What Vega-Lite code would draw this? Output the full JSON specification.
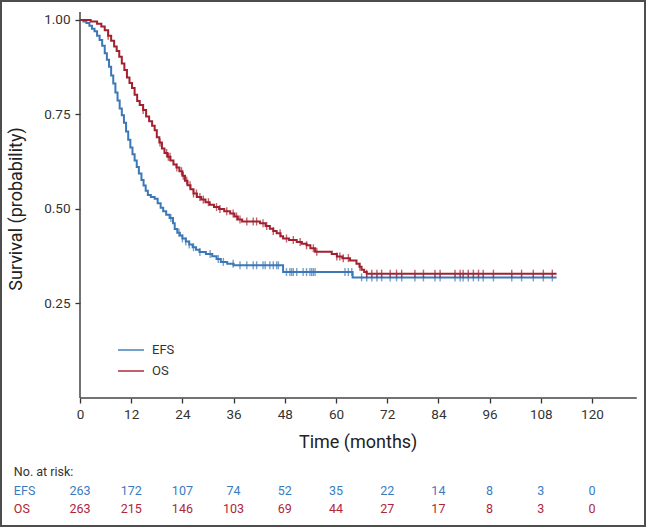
{
  "$schema": "https://vega.github.io/schema/vega-lite/v6.json",
  "width": 646,
  "height": 527,
  "padding": 0,
  "autosize": {"type": "fit", "contains": "padding"},
  "background": "white",
  "config": {
    "view": {"stroke": "#4d4d4d", "strokeWidth": 4},
    "font": "Roboto",
    "axis": {"grid": false, "domain": false, "tickColor": "#333", "tickWidth": 1.3, "tickSize": 5, "labelColor": "#333", "labelFontSize": 13.5, "labelFont": "Roboto"}
  },
  "datasets": {
    "curves": [
      {"series":"EFS","time":0,"surv":1},{"series":"EFS","time":0.8,"surv":0.996},{"series":"EFS","time":1.5,"surv":0.992},{"series":"EFS","time":2.2,"surv":0.985},{"series":"EFS","time":2.8,"surv":0.977},{"series":"EFS","time":3.4,"surv":0.970},{"series":"EFS","time":4.0,"surv":0.958},{"series":"EFS","time":4.6,"surv":0.947},{"series":"EFS","time":5.2,"surv":0.932},{"series":"EFS","time":5.8,"surv":0.912},{"series":"EFS","time":6.3,"surv":0.895},{"series":"EFS","time":6.8,"surv":0.876},{"series":"EFS","time":7.3,"surv":0.853},{"series":"EFS","time":7.8,"surv":0.832},{"series":"EFS","time":8.3,"surv":0.808},{"series":"EFS","time":8.8,"surv":0.787},{"series":"EFS","time":9.3,"surv":0.766},{"series":"EFS","time":9.8,"surv":0.748},{"series":"EFS","time":10.3,"surv":0.728},{"series":"EFS","time":10.8,"surv":0.705},{"series":"EFS","time":11.3,"surv":0.683},{"series":"EFS","time":11.8,"surv":0.663},{"series":"EFS","time":12.3,"surv":0.645},{"series":"EFS","time":12.8,"surv":0.628},{"series":"EFS","time":13.3,"surv":0.611},{"series":"EFS","time":13.8,"surv":0.594},{"series":"EFS","time":14.4,"surv":0.577},{"series":"EFS","time":14.9,"surv":0.562},{"series":"EFS","time":15.4,"surv":0.548},{"series":"EFS","time":15.9,"surv":0.537},{"series":"EFS","time":16.6,"surv":0.532},{"series":"EFS","time":17.5,"surv":0.527},{"series":"EFS","time":18.2,"surv":0.515},{"series":"EFS","time":18.9,"surv":0.503},{"series":"EFS","time":19.5,"surv":0.494},{"series":"EFS","time":20.2,"surv":0.485},{"series":"EFS","time":21.0,"surv":0.476},{"series":"EFS","time":21.8,"surv":0.462},{"series":"EFS","time":22.2,"surv":0.447},{"series":"EFS","time":22.8,"surv":0.437},{"series":"EFS","time":23.4,"surv":0.430},{"series":"EFS","time":24.0,"surv":0.422},{"series":"EFS","time":24.8,"surv":0.414},{"series":"EFS","time":25.6,"surv":0.406},{"series":"EFS","time":26.4,"surv":0.399},{"series":"EFS","time":27.2,"surv":0.392},{"series":"EFS","time":28.0,"surv":0.386},{"series":"EFS","time":29.5,"surv":0.381},{"series":"EFS","time":31.0,"surv":0.375},{"series":"EFS","time":32.0,"surv":0.368},{"series":"EFS","time":33.0,"surv":0.360},{"series":"EFS","time":34.5,"surv":0.355},{"series":"EFS","time":36.0,"surv":0.351},{"series":"EFS","time":47.6,"surv":0.333},{"series":"EFS","time":63.9,"surv":0.319},{"series":"EFS","time":111.7,"surv":0.319},
      {"series":"OS","time":0,"surv":1},{"series":"OS","time":2.5,"surv":0.996},{"series":"OS","time":4.0,"surv":0.990},{"series":"OS","time":5.0,"surv":0.983},{"series":"OS","time":5.8,"surv":0.973},{"series":"OS","time":6.6,"surv":0.958},{"series":"OS","time":7.3,"surv":0.945},{"series":"OS","time":8.0,"surv":0.930},{"series":"OS","time":8.6,"surv":0.918},{"series":"OS","time":9.2,"surv":0.903},{"series":"OS","time":9.8,"surv":0.885},{"series":"OS","time":10.4,"surv":0.868},{"series":"OS","time":11.0,"surv":0.848},{"series":"OS","time":11.6,"surv":0.833},{"series":"OS","time":12.2,"surv":0.820},{"series":"OS","time":12.8,"surv":0.802},{"series":"OS","time":13.4,"surv":0.786},{"series":"OS","time":14.0,"surv":0.775},{"series":"OS","time":14.8,"surv":0.762},{"series":"OS","time":15.5,"surv":0.745},{"series":"OS","time":16.2,"surv":0.732},{"series":"OS","time":16.9,"surv":0.720},{"series":"OS","time":17.5,"surv":0.708},{"series":"OS","time":18.0,"surv":0.690},{"series":"OS","time":18.6,"surv":0.676},{"series":"OS","time":19.2,"surv":0.660},{"series":"OS","time":19.8,"surv":0.648},{"series":"OS","time":20.5,"surv":0.638},{"series":"OS","time":21.2,"surv":0.628},{"series":"OS","time":21.9,"surv":0.618},{"series":"OS","time":22.6,"surv":0.610},{"series":"OS","time":23.3,"surv":0.600},{"series":"OS","time":24.0,"surv":0.588},{"series":"OS","time":24.6,"surv":0.575},{"series":"OS","time":25.2,"surv":0.563},{"series":"OS","time":25.9,"surv":0.552},{"series":"OS","time":26.6,"surv":0.541},{"series":"OS","time":27.4,"surv":0.532},{"series":"OS","time":28.4,"surv":0.525},{"series":"OS","time":29.4,"surv":0.518},{"series":"OS","time":30.4,"surv":0.511},{"series":"OS","time":31.4,"surv":0.505},{"series":"OS","time":32.6,"surv":0.500},{"series":"OS","time":33.8,"surv":0.494},{"series":"OS","time":35.2,"surv":0.488},{"series":"OS","time":36.2,"surv":0.480},{"series":"OS","time":37.0,"surv":0.472},{"series":"OS","time":38.0,"surv":0.467},{"series":"OS","time":42.2,"surv":0.462},{"series":"OS","time":43.5,"surv":0.455},{"series":"OS","time":44.5,"surv":0.448},{"series":"OS","time":45.3,"surv":0.442},{"series":"OS","time":46.1,"surv":0.436},{"series":"OS","time":47.0,"surv":0.428},{"series":"OS","time":47.6,"surv":0.422},{"series":"OS","time":49.0,"surv":0.418},{"series":"OS","time":50.8,"surv":0.413},{"series":"OS","time":52.0,"surv":0.408},{"series":"OS","time":53.1,"surv":0.404},{"series":"OS","time":54.0,"surv":0.396},{"series":"OS","time":55.1,"surv":0.387},{"series":"OS","time":59.0,"surv":0.381},{"series":"OS","time":60.2,"surv":0.374},{"series":"OS","time":61.5,"surv":0.370},{"series":"OS","time":63.3,"surv":0.364},{"series":"OS","time":64.8,"surv":0.355},{"series":"OS","time":65.5,"surv":0.347},{"series":"OS","time":66.0,"surv":0.339},{"series":"OS","time":66.6,"surv":0.333},{"series":"OS","time":67.2,"surv":0.329},{"series":"OS","time":111.7,"surv":0.329}
    ],
    "censors": [
      {"series":"EFS","time":21.3,"surv":0.476},{"series":"EFS","time":23.2,"surv":0.437},{"series":"EFS","time":24.0,"surv":0.422},{"series":"EFS","time":24.8,"surv":0.414},{"series":"EFS","time":25.6,"surv":0.406},{"series":"EFS","time":26.6,"surv":0.399},{"series":"EFS","time":28.1,"surv":0.386},{"series":"EFS","time":30.5,"surv":0.381},{"series":"EFS","time":32.4,"surv":0.368},{"series":"EFS","time":33.6,"surv":0.360},{"series":"EFS","time":35.9,"surv":0.355},{"series":"EFS","time":37.5,"surv":0.351},{"series":"EFS","time":39.1,"surv":0.351},{"series":"EFS","time":40.6,"surv":0.351},{"series":"EFS","time":41.4,"surv":0.351},{"series":"EFS","time":42.9,"surv":0.351},{"series":"EFS","time":43.4,"surv":0.351},{"series":"EFS","time":44.5,"surv":0.351},{"series":"EFS","time":45.3,"surv":0.351},{"series":"EFS","time":46.1,"surv":0.351},{"series":"EFS","time":46.5,"surv":0.351},{"series":"EFS","time":48.4,"surv":0.333},{"series":"EFS","time":49.2,"surv":0.333},{"series":"EFS","time":49.6,"surv":0.333},{"series":"EFS","time":50.0,"surv":0.333},{"series":"EFS","time":50.8,"surv":0.333},{"series":"EFS","time":52.3,"surv":0.333},{"series":"EFS","time":53.1,"surv":0.333},{"series":"EFS","time":53.9,"surv":0.333},{"series":"EFS","time":54.3,"surv":0.333},{"series":"EFS","time":54.7,"surv":0.333},{"series":"EFS","time":55.1,"surv":0.333},{"series":"EFS","time":62.1,"surv":0.333},{"series":"EFS","time":62.9,"surv":0.333},{"series":"EFS","time":63.7,"surv":0.333},{"series":"EFS","time":66.0,"surv":0.319},{"series":"EFS","time":67.2,"surv":0.319},{"series":"EFS","time":68.4,"surv":0.319},{"series":"EFS","time":69.6,"surv":0.319},{"series":"EFS","time":70.7,"surv":0.319},{"series":"EFS","time":72.7,"surv":0.319},{"series":"EFS","time":74.2,"surv":0.319},{"series":"EFS","time":75.4,"surv":0.319},{"series":"EFS","time":78.5,"surv":0.319},{"series":"EFS","time":80.5,"surv":0.319},{"series":"EFS","time":83.2,"surv":0.319},{"series":"EFS","time":84.4,"surv":0.319},{"series":"EFS","time":87.9,"surv":0.319},{"series":"EFS","time":89.1,"surv":0.319},{"series":"EFS","time":89.8,"surv":0.319},{"series":"EFS","time":91.0,"surv":0.319},{"series":"EFS","time":92.2,"surv":0.319},{"series":"EFS","time":93.4,"surv":0.319},{"series":"EFS","time":94.5,"surv":0.319},{"series":"EFS","time":96.9,"surv":0.319},{"series":"EFS","time":101.2,"surv":0.319},{"series":"EFS","time":103.5,"surv":0.319},{"series":"EFS","time":106.25,"surv":0.319},{"series":"EFS","time":108.6,"surv":0.319},{"series":"EFS","time":110.7,"surv":0.319},
      {"series":"OS","time":6.6,"surv":0.958},{"series":"OS","time":14.8,"surv":0.762},{"series":"OS","time":18.75,"surv":0.676},{"series":"OS","time":20.3,"surv":0.648},{"series":"OS","time":20.7,"surv":0.638},{"series":"OS","time":21.1,"surv":0.638},{"series":"OS","time":22.7,"surv":0.610},{"series":"OS","time":23.8,"surv":0.600},{"series":"OS","time":24.2,"surv":0.588},{"series":"OS","time":25.0,"surv":0.575},{"series":"OS","time":25.8,"surv":0.563},{"series":"OS","time":26.6,"surv":0.541},{"series":"OS","time":27.3,"surv":0.541},{"series":"OS","time":28.1,"surv":0.532},{"series":"OS","time":28.9,"surv":0.525},{"series":"OS","time":30.1,"surv":0.518},{"series":"OS","time":32.0,"surv":0.505},{"series":"OS","time":32.8,"surv":0.500},{"series":"OS","time":34.4,"surv":0.494},{"series":"OS","time":35.9,"surv":0.488},{"series":"OS","time":36.7,"surv":0.480},{"series":"OS","time":37.5,"surv":0.472},{"series":"OS","time":39.1,"surv":0.467},{"series":"OS","time":40.6,"surv":0.467},{"series":"OS","time":41.4,"surv":0.467},{"series":"OS","time":42.9,"surv":0.462},{"series":"OS","time":43.75,"surv":0.455},{"series":"OS","time":45.3,"surv":0.442},{"series":"OS","time":46.9,"surv":0.436},{"series":"OS","time":48.4,"surv":0.422},{"series":"OS","time":50.0,"surv":0.418},{"series":"OS","time":51.6,"surv":0.413},{"series":"OS","time":53.1,"surv":0.404},{"series":"OS","time":54.7,"surv":0.396},{"series":"OS","time":55.5,"surv":0.387},{"series":"OS","time":60.2,"surv":0.374},{"series":"OS","time":60.9,"surv":0.374},{"series":"OS","time":61.7,"surv":0.370},{"series":"OS","time":62.9,"surv":0.370},{"series":"OS","time":65.6,"surv":0.347},{"series":"OS","time":67.2,"surv":0.329},{"series":"OS","time":68.4,"surv":0.329},{"series":"OS","time":69.6,"surv":0.329},{"series":"OS","time":70.7,"surv":0.329},{"series":"OS","time":72.7,"surv":0.329},{"series":"OS","time":74.2,"surv":0.329},{"series":"OS","time":75.4,"surv":0.329},{"series":"OS","time":78.5,"surv":0.329},{"series":"OS","time":80.5,"surv":0.329},{"series":"OS","time":83.2,"surv":0.329},{"series":"OS","time":84.4,"surv":0.329},{"series":"OS","time":87.9,"surv":0.329},{"series":"OS","time":89.1,"surv":0.329},{"series":"OS","time":89.8,"surv":0.329},{"series":"OS","time":91.0,"surv":0.329},{"series":"OS","time":92.2,"surv":0.329},{"series":"OS","time":93.4,"surv":0.329},{"series":"OS","time":94.5,"surv":0.329},{"series":"OS","time":96.9,"surv":0.329},{"series":"OS","time":101.2,"surv":0.329},{"series":"OS","time":103.5,"surv":0.329},{"series":"OS","time":106.25,"surv":0.329},{"series":"OS","time":108.6,"surv":0.329},{"series":"OS","time":110.7,"surv":0.329}
    ],
    "risk": [
      {"series":"EFS","time":0,"n":263},{"series":"EFS","time":12,"n":172},{"series":"EFS","time":24,"n":107},{"series":"EFS","time":36,"n":74},{"series":"EFS","time":48,"n":52},{"series":"EFS","time":60,"n":35},{"series":"EFS","time":72,"n":22},{"series":"EFS","time":84,"n":14},{"series":"EFS","time":96,"n":8},{"series":"EFS","time":108,"n":3},{"series":"EFS","time":120,"n":0},
      {"series":"OS","time":0,"n":263},{"series":"OS","time":12,"n":215},{"series":"OS","time":24,"n":146},{"series":"OS","time":36,"n":103},{"series":"OS","time":48,"n":69},{"series":"OS","time":60,"n":44},{"series":"OS","time":72,"n":27},{"series":"OS","time":84,"n":17},{"series":"OS","time":96,"n":8},{"series":"OS","time":108,"n":3},{"series":"OS","time":120,"n":0}
    ]
  },
  "layer": [
    {
      "data": {"name": "curves"},
      "mark": {"type": "line", "interpolate": "step-after", "strokeWidth": 2},
      "encoding": {
        "x": {"field": "time", "type": "quantitative", "title": null,
              "scale": {"domain": [-18.75, 132.66], "nice": false, "zero": false},
              "axis": {"orient": "bottom", "offset": -129, "values": [0,12,24,36,48,60,72,84,96,108,120], "labelPadding": 4}},
        "y": {"field": "surv", "type": "quantitative", "title": null,
              "scale": {"domain": [-0.3413, 1.0529], "nice": false, "zero": false},
              "axis": {"orient": "left", "offset": -80, "values": [0.25,0.5,0.75,1], "format": ".2f", "labelPadding": 5}},
        "color": {"field": "series", "type": "nominal",
                  "scale": {"domain": ["EFS","OS"], "range": ["#3b78b5","#a3202f"]},
                  "legend": {"orient": "none", "legendX": 117, "legendY": 336, "title": null, "symbolType": "stroke", "symbolSize": 676, "symbolStrokeWidth": 2, "labelFontSize": 13, "labelColor": "#333", "labelOffset": 7, "rowPadding": -10, "padding": 0}}
      }
    },
    {
      "data": {"name": "censors"},
      "mark": {"type": "tick", "orient": "vertical", "size": 8, "thickness": 1.4},
      "encoding": {
        "x": {"field": "time", "type": "quantitative", "title": null},
        "y": {"field": "surv", "type": "quantitative", "title": null},
        "color": {"field": "series", "type": "nominal"}
      }
    },
    {
      "data": {"values": [{}]},
      "mark": {"type": "rule", "color": "#444", "strokeWidth": 1.5},
      "encoding": {"x": {"datum": 0}, "x2": {"datum": 130.5}, "y": {"datum": 0}}
    },
    {
      "data": {"values": [{}]},
      "mark": {"type": "rule", "color": "#444", "strokeWidth": 1.5},
      "encoding": {"x": {"datum": 0}, "y": {"datum": 0}, "y2": {"datum": 1.021}}
    },
    {
      "data": {"values": [{"label": "Time (months)"}]},
      "mark": {"type": "text", "fontSize": 18, "color": "#222", "align": "center", "baseline": "middle"},
      "encoding": {"x": {"datum": 65.2}, "y": {"datum": -0.119}, "text": {"field": "label"}}
    },
    {
      "data": {"values": [{"label": "Survival (probability)"}]},
      "mark": {"type": "text", "fontSize": 18, "color": "#222", "align": "center", "baseline": "middle", "angle": 270},
      "encoding": {"x": {"datum": -14.8}, "y": {"datum": 0.5}, "text": {"field": "label"}}
    },
    {
      "data": {"values": [{"label": "No. at risk:"}]},
      "mark": {"type": "text", "fontSize": 12.5, "color": "#333", "align": "left", "baseline": "middle"},
      "encoding": {"x": {"datum": -15.5}, "y": {"datum": -0.195}, "text": {"field": "label"}}
    },
    {
      "data": {"values": [{"label": "EFS"}]},
      "mark": {"type": "text", "fontSize": 12.5, "color": "#3a7bc0", "align": "left", "baseline": "middle"},
      "encoding": {"x": {"datum": -15.5}, "y": {"datum": -0.245}, "text": {"field": "label"}}
    },
    {
      "data": {"values": [{"label": "OS"}]},
      "mark": {"type": "text", "fontSize": 12.5, "color": "#b0253a", "align": "left", "baseline": "middle"},
      "encoding": {"x": {"datum": -15.5}, "y": {"datum": -0.294}, "text": {"field": "label"}}
    },
    {
      "data": {"name": "risk"},
      "transform": [{"filter": "datum.series === 'EFS'"}],
      "mark": {"type": "text", "fontSize": 12.5, "color": "#3a7bc0", "align": "center", "baseline": "middle"},
      "encoding": {"x": {"field": "time", "type": "quantitative", "title": null}, "y": {"datum": -0.245}, "text": {"field": "n"}}
    },
    {
      "data": {"name": "risk"},
      "transform": [{"filter": "datum.series === 'OS'"}],
      "mark": {"type": "text", "fontSize": 12.5, "color": "#b0253a", "align": "center", "baseline": "middle"},
      "encoding": {"x": {"field": "time", "type": "quantitative", "title": null}, "y": {"datum": -0.294}, "text": {"field": "n"}}
    }
  ]
}
